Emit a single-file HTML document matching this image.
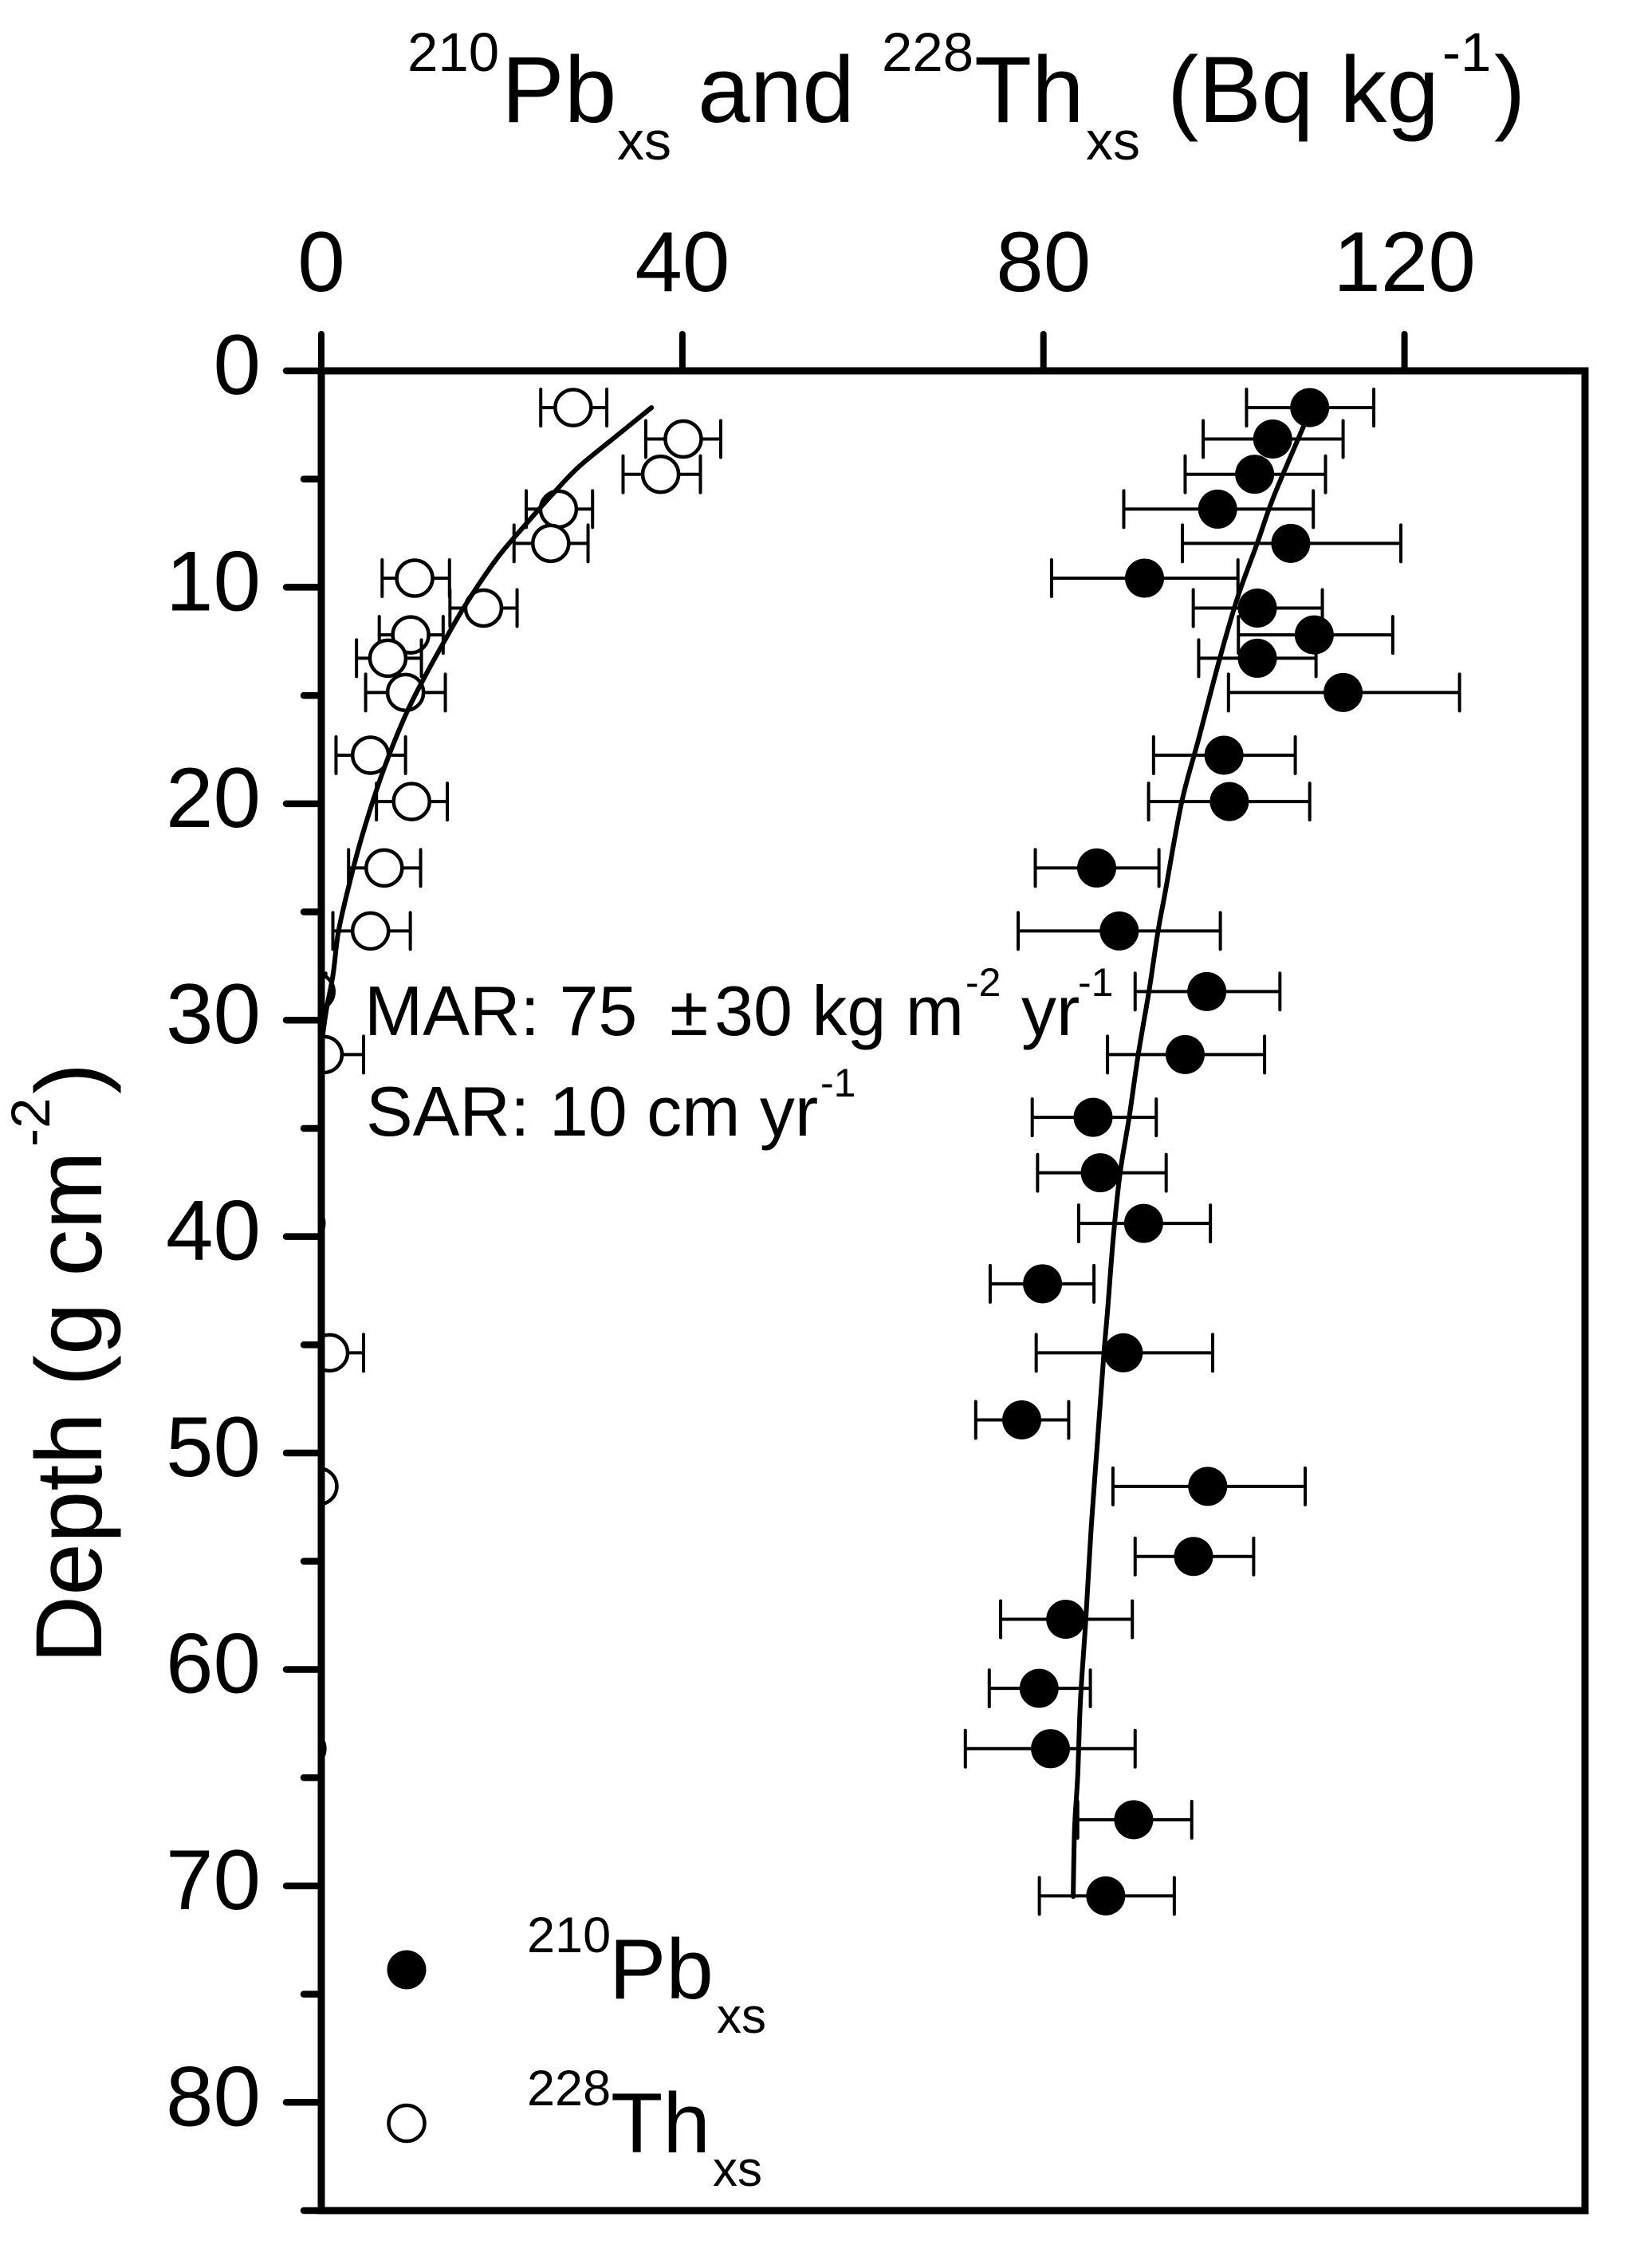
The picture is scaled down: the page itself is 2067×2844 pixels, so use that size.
<!DOCTYPE html>
<html lang="en">
<head>
<meta charset="utf-8">
<title>210Pb and 228Th excess depth profile</title>
<style>
html,body{margin:0;padding:0;background:#fff;}
svg{display:block;}
text{font-family:"Liberation Sans",Arial,sans-serif;fill:#000;}
</style>
</head>
<body>
<svg id="chart" xmlns="http://www.w3.org/2000/svg" width="2067" height="2844" viewBox="0 0 2067 2844">
  <rect x="0" y="0" width="2067" height="2844" fill="#fff"/>
  <defs>
    <clipPath id="plot-clip"><rect x="403" y="465" width="1585" height="2307"/></clipPath>
  </defs>
  <g id="marks"></g>
  <g id="axes"></g>

  <g>
    <text x="511" y="89" font-size="69">210</text>
    <text x="629" y="153" font-size="118">Pb</text>
    <text x="774" y="200" font-size="68">xs</text>
    <text x="875" y="153" font-size="118">and</text>
    <text x="1106" y="89" font-size="69">228</text>
    <text x="1222" y="153" font-size="118">Th</text>
    <text x="1362" y="200" font-size="68">xs</text>
    <text x="1464" y="153" font-size="118">(Bq kg</text>
    <text x="1809" y="89" font-size="69">-1</text>
    <text x="1874" y="153" font-size="118">)</text>
  </g>

  <g transform="translate(127,2086) rotate(-90)">
    <text x="0" y="0" font-size="118">Depth (g cm</text>
    <text x="648" y="-65" font-size="69">-2</text>
    <text x="714" y="0" font-size="118">)</text>
  </g>

  <g>
    <text x="457" y="1298" font-size="88">MAR: 75</text>
    <text x="840" y="1298" font-size="88">±</text>
    <text x="896" y="1298" font-size="88">30 kg m</text>
    <text x="1211" y="1249" font-size="50">-2</text>
    <text x="1281" y="1298" font-size="88">yr</text>
    <text x="1352" y="1249" font-size="50">-1</text>
  </g>
  <g>
    <text x="459" y="1424" font-size="88">SAR: 10 cm yr</text>
    <text x="1029" y="1375" font-size="50">-1</text>
  </g>

  <g>
    <g>
      <circle cx="510" cy="2470" r="24.5" fill="#000"/>
      <text x="661" y="2448" font-size="63">210</text>
      <text x="764" y="2506" font-size="107">Pb</text>
      <text x="899" y="2549" font-size="62">xs</text>
    </g>
    <g>
      <circle cx="510" cy="2662.5" r="22.5" fill="#fff" stroke="#000" stroke-width="4.5"/>
      <text x="661" y="2640" font-size="63">228</text>
      <text x="766" y="2699" font-size="107">Th</text>
      <text x="894" y="2741" font-size="62">xs</text>
    </g>
  </g>
</svg>

<script>
// Axis domains and tick labels
const xDomain = [0, 140];
const yDomain = [0, 85];
const xTickValues = [0, 40, 80, 120];
const xTickLabels = ["0", "40", "80", "120"];
const yMajorTicks = [0, 10, 20, 30, 40, 50, 60, 70, 80];
const yMajorLabels = ["0", "10", "20", "30", "40", "50", "60", "70", "80"];
const yMinorTicks = [5, 15, 25, 35, 45, 55, 65, 75, 85];

// 210Pb excess observations
const pbDepth = [1.70, 3.15, 4.78, 6.39, 7.97, 9.58, 10.96, 12.2, 13.28, 14.86, 17.76, 19.9, 22.97, 25.88, 28.68, 31.59, 34.49, 37.05, 39.39, 42.18, 45.37, 48.47, 51.54, 54.78, 57.68, 60.87, 63.66, 66.94, 70.46];
const pbValue = [109.5, 105.4, 103.4, 99.3, 107.4, 91.2, 103.7, 110, 103.7, 113.2, 100, 100.6, 85.9, 88.4, 98.1, 95.7, 85.5, 86.3, 91.1, 79.9, 88.85, 77.6, 98.2, 96.63, 82.47, 79.52, 80.78, 90, 86.9];
const pbLow = [102.5, 97.7, 95.7, 88.9, 95.4, 80.9, 96.6, 101.6, 97.2, 100.5, 92.2, 91.65, 79.1, 77.2, 90.16, 87.1, 78.76, 79.35, 83.9, 74.1, 79.2, 72.5, 87.7, 90.16, 75.26, 74, 71.35, 83.8, 79.55];
const pbHigh = [116.6, 113.2, 111.25, 109.9, 119.6, 101.55, 110.9, 118.7, 110.2, 126.1, 107.9, 109.5, 92.8, 99.6, 106.2, 104.5, 92.5, 93.6, 98.5, 85.6, 98.75, 82.8, 109, 103.29, 89.85, 85.2, 90.16, 96.43, 94.5];

// 228Th excess observations (values below zero fall behind the axis)
const thDepth = [1.70, 3.15, 4.78, 6.39, 7.97, 9.58, 10.96, 12.2, 13.28, 14.86, 17.76, 19.9, 22.97, 25.88, 28.68, 31.59, 39.39, 45.37, 51.54, 63.66];
const thValue = [27.9, 40.1, 37.59, 26.27, 25.42, 10.34, 17.97, 9.9, 7.37, 9.33, 5.45, 10, 6.96, 5.45, -0.6, 0.3, -1.7, 0.93, -0.27, -1.6];
const thLow = [24.31, 35.95, 33.43, 22.7, 21.35, 6.74, 14.25, 6.42, 3.9, 4.91, 1.63, 6.11, 3.02, 1.28, -4, -4, -5, -4, -4, -5];
const thHigh = [31.63, 44.25, 42, 30.05, 29.55, 14.2, 21.69, 13.5, 11.09, 13.74, 9.33, 13.96, 11, 9.86, 0.5, 4.68, -1.7, 4.68, -0.27, -1.6];

// Fitted profiles
const pbFitDepth = [1.7, 2.53, 5.82, 7.95, 10.42, 13.22, 17, 19.96, 24.07, 25.88, 28.65, 31.6, 34.49, 37.04, 40, 43.45, 45.4, 49.4, 53.4, 57.66, 61.44, 64.9, 67.36, 70.49];
const pbFitValue = [109.6, 108.85, 105.5, 103.7, 101.55, 99.58, 97.2, 95.3, 93.5, 92.7, 91.7, 90.5, 89.5, 88.5, 87.75, 87.1, 86.7, 86, 85.3, 84.7, 84.1, 83.8, 83.45, 83.3];
const thFitDepth = [1.7, 3.02, 4.42, 5.65, 7.13, 8.69, 10.83, 12.64, 14.45, 15.77, 17.49, 19.3, 21.6, 23.58, 25.88, 27.9, 29.6, 31.2];
const thFitValue = [36.58, 32.67, 28.57, 25.73, 22.57, 19.42, 15.95, 13.43, 11.06, 9.48, 7.75, 6.17, 4.44, 3.18, 1.91, 1.3, 0.53, 0];

const SVG_NS = "http://www.w3.org/2000/svg";
const PLOT_LEFT = 403, PLOT_RIGHT = 1988, PLOT_TOP = 465, PLOT_BOTTOM = 2772;

function scaleX(v) {
  return PLOT_LEFT + (v - xDomain[0]) / (xDomain[1] - xDomain[0]) * (PLOT_RIGHT - PLOT_LEFT);
}
function scaleY(v) {
  return PLOT_TOP + (v - yDomain[0]) / (yDomain[1] - yDomain[0]) * (PLOT_BOTTOM - PLOT_TOP);
}
function make(tag, attrs, parent) {
  const el = document.createElementNS(SVG_NS, tag);
  Object.keys(attrs).forEach(function (k) { el.setAttribute(k, attrs[k]); });
  parent.appendChild(el);
  return el;
}

const marks = document.getElementById("marks");
const axes = document.getElementById("axes");

function drawSeries(seriesName, depth, value, low, high, filled, clipped) {
  const group = make("g", {}, marks);
  
  
  if (clipped) group.setAttribute("clip-path", "url(#plot-clip)");
  depth.forEach(function (d, i) {
    const y = scaleY(d);
    const x = scaleX(value[i]);
    const xl = scaleX(low[i]);
    const xh = scaleX(high[i]);
    const bar = make("path", {
      d: "M" + xl + " " + y + "H" + xh + "M" + xl + " " + (y - 23) + "V" + (y + 23) + "M" + xh + " " + (y - 23) + "V" + (y + 23),
      fill: "none", stroke: "#000", "stroke-width": 4, "stroke-linecap": "round"
    }, group);
    
    
    const dot = make("circle", {
      cx: x, cy: y, r: filled ? 24.5 : 22.5,
      fill: filled ? "#000" : "#fff",
      stroke: filled ? "none" : "#000",
      "stroke-width": filled ? 0 : 4.5
    }, group);
    
    
  });
}

function drawFit(fitName, depth, value) {
  const px = depth.map(function (d, i) { return [scaleX(value[i]), scaleY(d)]; });
  let d = "M" + px[0][0] + " " + px[0][1];
  for (let i = 0; i < px.length - 1; i++) {
    const p0 = px[Math.max(i - 1, 0)];
    const p1 = px[i];
    const p2 = px[i + 1];
    const p3 = px[Math.min(i + 2, px.length - 1)];
    d += "C" + (p1[0] + (p2[0] - p0[0]) / 6) + " " + (p1[1] + (p2[1] - p0[1]) / 6) + " " +
         (p2[0] - (p3[0] - p1[0]) / 6) + " " + (p2[1] - (p3[1] - p1[1]) / 6) + " " + p2[0] + " " + p2[1];
  }
  const line = make("path", {
    d: d,
    fill: "none", stroke: "#000", "stroke-width": 6,
    "stroke-linecap": "round", "stroke-linejoin": "round",
    "clip-path": "url(#plot-clip)"
  }, marks);
  
  
}

drawSeries("th228", thDepth, thValue, thLow, thHigh, false, true);
drawSeries("pb210", pbDepth, pbValue, pbLow, pbHigh, true, false);
drawFit("th228-fit-curve", thFitDepth, thFitValue);
drawFit("pb210-fit-curve", pbFitDepth, pbFitValue);

// Frame
const frame = make("rect", {
  x: PLOT_LEFT, y: PLOT_TOP, width: PLOT_RIGHT - PLOT_LEFT, height: PLOT_BOTTOM - PLOT_TOP,
  fill: "none", stroke: "#000", "stroke-width": 9
}, axes);



// Top axis ticks and labels
xTickValues.forEach(function (v, i) {
  const x = scaleX(v);
  const tick = make("line", {
    x1: x, x2: x, y1: PLOT_TOP, y2: PLOT_TOP - 46,
    stroke: "#000", "stroke-width": 8, "stroke-linecap": "round"
  }, axes);
  
  
  const label = make("text", { x: x, y: 365, "font-size": 107, "text-anchor": "middle" }, axes);
  label.textContent = xTickLabels[i];
  
  
});

// Left axis ticks and labels
yMajorTicks.forEach(function (v, i) {
  const y = scaleY(v);
  const tick = make("line", {
    x1: PLOT_LEFT, x2: PLOT_LEFT - 44, y1: y, y2: y,
    stroke: "#000", "stroke-width": 8.5, "stroke-linecap": "round"
  }, axes);
  
  
  const label = make("text", { x: 327, y: y + 29, "font-size": 107, "text-anchor": "end" }, axes);
  label.textContent = yMajorLabels[i];
  
  
});
yMinorTicks.forEach(function (v) {
  const y = scaleY(v);
  const tick = make("line", {
    x1: PLOT_LEFT, x2: PLOT_LEFT - 22, y1: y, y2: y,
    stroke: "#000", "stroke-width": 8.5, "stroke-linecap": "round"
  }, axes);
  
  
});
</script>
</body>
</html>
